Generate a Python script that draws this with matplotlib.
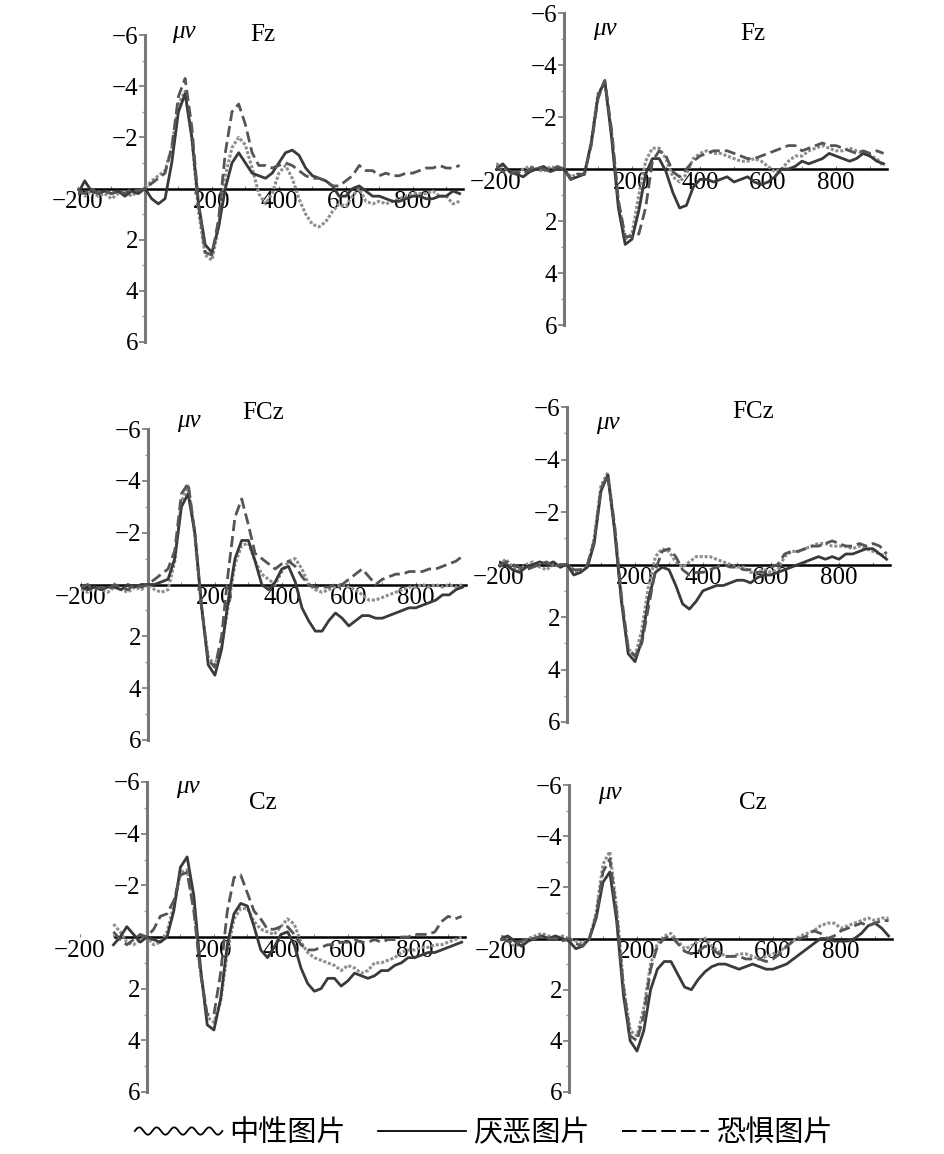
import numpy as np
import matplotlib
matplotlib.use('Agg')
import matplotlib.pyplot as plt
from matplotlib.lines import Line2D
from matplotlib.legend_handler import HandlerBase
from matplotlib.ticker import MultipleLocator

plt.rcParams['font.family'] = ['Liberation Serif', 'DejaVu Serif']

# sample times (ms)
times = np.arange(-200, 941, 20)
nan = np.nan

# ---- Fz, left ----
fz_l_neutral = [0.0, 0.3, 0.1, 0.3, 0.2, 0.4, 0.2, 0.1, 0.3, 0.1,
                0.0, -0.3, -0.5, -0.7, -1.6, -3.3, -3.8, -2.0, 0.9, 2.6,
                2.8, 1.5, -0.5, -1.6, -2.0, -1.7, -0.8, 0.2, 0.6, 0.2,
                -0.6, -0.9, -0.4, 0.4, 1.0, 1.4, 1.5, 1.3, 0.9, 0.6,
                0.7, 0.3, 0.0, 0.5, 0.6, 0.5, 0.6, 0.5, 0.4, 0.3,
                0.2, 0.2, 0.2, 0.1, 0.3, 0.3, 0.6, 0.5]
fz_l_disgust = [0.2, -0.3, 0.1, 0.2, 0.1, 0.2, 0.1, 0.3, 0.1, 0.2,
                0.0, 0.4, 0.6, 0.4, -1.0, -3.0, -3.7, -2.0, 0.6, 2.2,
                2.5, 1.5, 0.0, -1.0, -1.4, -1.0, -0.6, -0.5, -0.4, -0.6,
                -1.0, -1.4, -1.5, -1.3, -0.8, -0.5, -0.4, -0.3, -0.1, 0.3,
                0.3, 0.0, -0.1, 0.1, 0.3, 0.3, 0.4, 0.5, 0.5, 0.4,
                0.3, 0.3, 0.4, 0.4, 0.3, 0.3, 0.1, 0.2]
fz_l_fear = [0.1, 0.2, 0.0, 0.2, 0.1, 0.2, 0.1, 0.2, 0.0, 0.1,
             0.0, -0.2, -0.4, -0.6, -1.6, -3.6, -4.3, -2.4, 0.6, 2.5,
             2.6, 1.2, -1.4, -3.0, -3.3, -2.5, -1.4, -0.9, -0.9, -0.8,
             -0.9, -1.0, -0.9, -0.7, -0.5, -0.4, -0.4, -0.3, -0.1, -0.1,
             -0.3, -0.5, -0.9, -0.7, -0.7, -0.5, -0.6, -0.5, -0.5, -0.6,
             -0.6, -0.7, -0.8, -0.8, -0.9, -0.8, -0.8, -0.9]

# ---- Fz, right ----
fz_r_neutral = [-0.2, -0.1, 0.1, 0.2, 0.0, -0.1, 0.0, 0.1, -0.1, 0.0,
                0.0, 0.3, 0.2, 0.2, -1.0, -2.9, -3.3, -1.4, 1.3, 2.7,
                2.5, 1.0, -0.3, -0.8, -0.8, -0.4, 0.3, 0.5, 0.2, -0.4,
                -0.6, -0.7, -0.6, -0.6, -0.5, -0.4, -0.3, -0.3, -0.4, -0.3,
                -0.1, 0.1, 0.0, -0.3, -0.5, -0.5, -0.7, -0.8, -0.9, -0.8,
                -0.7, -0.7, -0.8, -0.7, -0.6, -0.5, -0.4, -0.1]
fz_r_disgust = [0.0, -0.2, 0.1, 0.2, 0.3, 0.1, 0.0, -0.1, 0.1, 0.0,
                0.0, 0.4, 0.3, 0.2, -1.0, -2.8, -3.4, -1.2, 1.5, 2.9,
                2.7, 1.6, 0.2, -0.4, -0.4, 0.1, 0.9, 1.5, 1.4, 0.7,
                0.4, 0.4, 0.5, 0.4, 0.3, 0.5, 0.4, 0.3, 0.5, 0.6,
                0.5, 0.3, 0.0, 0.0, -0.1, -0.3, -0.2, -0.3, -0.4, -0.6,
                -0.5, -0.4, -0.3, -0.4, -0.6, -0.5, -0.3, -0.2]
fz_r_fear = [-0.1, 0.1, 0.2, 0.1, 0.2, 0.0, -0.1, 0.0, 0.1, -0.1,
             0.0, 0.4, 0.2, 0.2, -0.9, -2.7, -3.4, -1.5, 1.2, 2.6,
             2.6, 2.5, 1.5, -0.3, -0.7, -0.5, 0.1, 0.3, 0.0, -0.3,
             -0.5, -0.6, -0.7, -0.7, -0.7, -0.6, -0.5, -0.4, -0.4, -0.5,
             -0.6, -0.7, -0.8, -0.9, -0.9, -0.7, -0.8, -0.9, -1.0, -0.9,
             -0.9, -0.8, -0.7, -0.6, -0.7, -0.6, -0.7, -0.6]

# ---- FCz, left ----
fcz_l_neutral = [0.2, 0.3, 0.1, 0.2, 0.3, 0.1, 0.2, 0.3, 0.1, 0.2,
                 0.0, 0.2, 0.3, 0.2, -0.9, -3.2, -3.8, -1.9, 0.9, 2.8,
                 3.1, 2.4, 0.8, -0.8, -1.5, -1.6, -0.9, -0.4, -0.2, 0.0,
                 -0.5, -0.9, -1.0, -0.6, 0.0, 0.2, 0.3, 0.2, 0.1, 0.0,
                 0.1, 0.2, 0.4, 0.6, 0.6, 0.5, 0.4, 0.3, 0.2, 0.1,
                 0.1, 0.0, 0.1, 0.0, 0.1, 0.0, 0.1, 0.0]
fcz_l_disgust = [0.1, 0.2, 0.1, 0.2, 0.1, 0.1, 0.2, 0.0, 0.1, 0.0,
                 0.0, 0.0, -0.1, -0.2, -1.0, -3.0, -3.5, -2.0, 0.8, 3.1,
                 3.5, 2.5, 0.6, -1.0, -1.7, -1.7, -0.9, 0.0, 0.2, -0.1,
                 -0.6, -0.7, -0.1, 0.9, 1.4, 1.8, 1.8, 1.4, 1.1, 1.3,
                 1.6, 1.4, 1.2, 1.2, 1.3, 1.3, 1.2, 1.1, 1.0, 0.9,
                 0.9, 0.8, 0.7, 0.6, 0.4, 0.4, 0.2, 0.1]
fcz_l_fear = [0.1, 0.0, 0.2, 0.1, 0.2, 0.0, 0.1, 0.2, 0.0, 0.1,
              0.0, -0.2, -0.4, -0.6, -1.3, -3.5, -3.9, -2.0, 0.9, 2.9,
              3.2, 2.0, -0.5, -2.6, -3.3, -2.3, -1.2, -1.0, -0.8, -0.6,
              -0.8, -0.9, -0.7, -0.3, 0.0, 0.1, 0.1, 0.1, 0.0, 0.0,
              -0.2, -0.4, -0.6, -0.3, 0.0, -0.2, -0.3, -0.4, -0.4, -0.5,
              -0.5, -0.5, -0.6, -0.6, -0.7, -0.8, -0.9, -1.1]

# ---- FCz, right ----
fcz_r_neutral = [0.0, -0.2, 0.1, 0.2, 0.0, -0.1, 0.1, 0.2, 0.0, 0.1,
                 0.0, 0.3, 0.2, 0.1, -1.0, -3.0, -3.5, -1.4, 1.3, 3.2,
                 3.5, 2.5, 0.8, -0.3, -0.6, -0.5, -0.1, 0.1, -0.1, -0.3,
                 -0.3, -0.3, -0.2, -0.1, 0.0, 0.1, 0.1, 0.3, 0.3, 0.2,
                 0.3, 0.2, -0.3, -0.5, -0.5, -0.6, -0.7, -0.8, -0.8, -0.7,
                 -0.7, -0.7, -0.6, -0.7, -0.6, -0.5, -0.4, -0.3]
fcz_r_disgust = [-0.1, 0.0, 0.2, 0.3, 0.1, 0.0, -0.1, 0.0, -0.1, 0.1,
                 0.0, 0.4, 0.3, 0.1, -0.8, -2.8, -3.4, -1.3, 1.4, 3.4,
                 3.7, 2.9, 1.3, 0.3, 0.1, 0.2, 0.8, 1.5, 1.7, 1.4,
                 1.0, 0.9, 0.8, 0.8, 0.7, 0.6, 0.6, 0.7, 0.5, 0.4,
                 0.4, 0.3, 0.2, 0.1, 0.0, -0.1, -0.2, -0.3, -0.2, -0.3,
                 -0.2, -0.4, -0.4, -0.5, -0.6, -0.6, -0.4, -0.2]
fcz_r_fear = [0.1, -0.1, 0.0, 0.1, 0.2, 0.1, 0.0, -0.1, 0.1, 0.0,
              0.0, 0.2, 0.2, 0.0, -0.9, -2.9, -3.4, -1.5, 1.2, 3.2,
              3.5, 3.0, 1.6, 0.2, -0.5, -0.6, -0.3, 0.2, 0.4, 0.3,
              0.3, 0.2, 0.1, 0.0, 0.1, 0.1, 0.2, 0.2, 0.3, 0.3,
              0.1, 0.0, -0.4, -0.5, -0.5, -0.6, -0.7, -0.7, -0.8, -0.9,
              -0.8, -0.7, -0.7, -0.8, -0.7, -0.8, -0.7, -0.4]

# ---- Cz, left (traces start near -100 ms) ----
cz_l_neutral = [nan, nan, nan, nan, nan, -0.5, -0.2, 0.2, 0.3, 0.1,
                0.0, 0.3, 0.2, -0.2, -1.2, -2.5, -2.6, -1.2, 1.3, 3.1,
                3.3, 2.5, 0.6, -0.7, -1.1, -1.1, -0.6, -0.3, -0.2, -0.1,
                -0.4, -0.7, -0.5, 0.2, 0.6, 0.8, 0.9, 1.0, 1.1, 1.3,
                1.1, 1.2, 1.4, 1.3, 1.0, 1.0, 0.9, 0.8, 0.6, 0.5,
                0.5, 0.4, 0.4, 0.3, 0.3, 0.2, 0.1, 0.0]
cz_l_disgust = [nan, nan, nan, nan, nan, 0.3, 0.0, -0.4, -0.1, 0.2,
                0.0, 0.1, 0.2, 0.0, -1.0, -2.7, -3.1, -1.6, 1.2, 3.4,
                3.6, 2.4, 0.3, -0.9, -1.3, -1.2, -0.4, 0.5, 0.8, 0.4,
                -0.1, -0.2, 0.3, 1.2, 1.8, 2.1, 2.0, 1.6, 1.6, 1.9,
                1.7, 1.4, 1.5, 1.6, 1.5, 1.3, 1.3, 1.1, 1.0, 0.8,
                0.8, 0.7, 0.6, 0.6, 0.5, 0.4, 0.3, 0.2]
cz_l_fear = [nan, nan, nan, nan, nan, -0.2, 0.1, 0.3, 0.1, -0.1,
             0.0, -0.3, -0.8, -0.9, -1.4, -2.4, -2.5, -1.0, 1.4, 3.0,
             3.0, 1.4, -1.0, -2.3, -2.4, -1.7, -1.0, -0.7, -0.3, -0.3,
             -0.4, -0.4, -0.1, 0.3, 0.5, 0.5, 0.4, 0.3, 0.3, 0.2,
             0.2, 0.1, 0.2, 0.2, 0.1, 0.2, 0.1, 0.1, 0.0, 0.0,
             -0.1, -0.1, -0.1, -0.2, -0.6, -0.8, -0.7, -0.8]

# ---- Cz, right ----
cz_r_neutral = [-0.1, 0.0, 0.3, 0.2, 0.0, -0.1, -0.2, -0.1, 0.0, -0.1,
                0.0, 0.1, 0.2, 0.0, -1.0, -2.9, -3.4, -1.2, 1.8, 3.6,
                3.8, 2.7, 1.0, 0.2, -0.1, -0.2, 0.1, 0.4, 0.3, 0.1,
                0.0, 0.3, 0.5, 0.7, 0.7, 0.6, 0.6, 0.7, 0.8, 0.7,
                0.6, 0.5, 0.3, 0.1, -0.1, -0.2, -0.3, -0.5, -0.6, -0.6,
                -0.4, -0.5, -0.6, -0.7, -0.8, -0.7, -0.8, -0.8]
cz_r_disgust = [0.0, -0.1, 0.1, 0.3, 0.1, 0.0, -0.1, 0.0, -0.1, 0.0,
                0.1, 0.4, 0.3, 0.0, -0.8, -2.2, -2.6, -0.7, 2.2, 4.0,
                4.4, 3.6, 2.0, 1.2, 0.9, 0.9, 1.4, 1.9, 2.0, 1.6,
                1.3, 1.1, 1.0, 1.0, 1.1, 1.2, 1.1, 1.0, 1.1, 1.2,
                1.2, 1.1, 1.0, 0.8, 0.6, 0.4, 0.2, 0.0, 0.0, 0.1,
                0.1, 0.1, 0.0, -0.2, -0.5, -0.6, -0.4, -0.1]
cz_r_fear = [0.0, 0.1, 0.2, 0.1, 0.0, 0.0, -0.1, 0.0, 0.0, 0.1,
             0.0, 0.2, 0.3, 0.0, -0.9, -2.6, -3.1, -1.0, 1.9, 3.8,
             4.0, 3.0, 1.2, 0.3, 0.0, -0.1, 0.2, 0.5, 0.6, 0.5,
             0.3, 0.4, 0.6, 0.7, 0.7, 0.7, 0.8, 0.8, 0.8, 0.9,
             0.8, 0.6, 0.3, 0.1, 0.0, -0.1, -0.3, -0.2, 0.0, -0.1,
             -0.3, -0.4, -0.5, -0.6, -0.5, -0.6, -0.7, -0.7]

titles = ['Fz', 'Fz', 'FCz', 'FCz', 'Cz', 'Cz']
labels = ['中性图片', '厌恶图片', '恐惧图片']
yticks = [-6, -4, -2, 2, 4, 6]
xticks = [-200, 200, 400, 600, 800]

panels = [
    (fz_l_neutral, fz_l_disgust, fz_l_fear),
    (fz_r_neutral, fz_r_disgust, fz_r_fear),
    (fcz_l_neutral, fcz_l_disgust, fcz_l_fear),
    (fcz_r_neutral, fcz_r_disgust, fcz_r_fear),
    (cz_l_neutral, cz_l_disgust, cz_l_fear),
    (cz_r_neutral, cz_r_disgust, cz_r_fear),
]

# pixel layout: x of -200 ms, x of 950 ms, y of -6, y of 6
W, H = 945, 1154
boxes = [(78, 463, 35, 342), (496, 887, 13, 325),
         (81, 466, 429, 740), (499, 890, 407, 722),
         (80, 465, 782, 1092), (501, 892, 785, 1092)]
title_pos = [(352, -6.0), (556, -5.2), (343, -6.6), (547, -5.8), (346, -5.2), (541, -5.3)]
mu_pos = [(80, -6.1), (85, -5.4), (87, -6.3), (85, -5.4), (87, -5.8), (85, -5.7)]
xstart = [-200, -200, -200, -200, -95, -200]

styles = [dict(color='#8e8e8e', lw=2.2, ls=(0, (1.0, 0.6))),
          dict(color='#3a3a3a', lw=2.0, ls='-'),
          dict(color='#555555', lw=2.0, ls=(0, (4, 1.8)))]

fig = plt.figure(figsize=(W / 100, H / 100), dpi=100)

for i, (series, (x0, x1, y0, y1)) in enumerate(zip(panels, boxes)):
    ax = fig.add_axes([x0 / W, 1 - y1 / H, (x1 - x0) / W, (y1 - y0) / H])
    for s, st in zip(series, styles):
        ax.plot(times, s, zorder=3, solid_joinstyle='round', dash_joinstyle='round', **st)
    ax.set_xlim(-200, 950)
    ax.set_ylim(6, -6)
    ax.spines['top'].set_visible(False)
    ax.spines['right'].set_visible(False)
    ax.spines['left'].set_position(('data', 0))
    ax.spines['bottom'].set_position(('data', 0))
    ax.spines['left'].set_color('#777777')
    ax.spines['left'].set_linewidth(2.2)
    ax.spines['left'].set_bounds(-6, 6)
    ax.spines['bottom'].set_color('black')
    ax.spines['bottom'].set_linewidth(1.8)
    ax.spines['bottom'].set_bounds(xstart[i], 950)
    ax.spines['bottom'].set_zorder(2)
    ax.set_yticks(yticks)
    ax.set_yticklabels([str(v).replace('-', '\u2212') for v in yticks])
    ax.yaxis.set_minor_locator(MultipleLocator(1))
    ax.set_xticks(xticks)
    ax.set_xticklabels([str(v).replace('-', '\u2212') for v in xticks])
    ax.xaxis.set_minor_locator(MultipleLocator(100))
    ax.tick_params(axis='y', which='major', direction='out', length=4, width=1.2,
                   color='#777777', labelsize=18, pad=1)
    ax.tick_params(axis='y', which='minor', direction='out', length=2.5, width=1,
                   color='#999999')
    ax.tick_params(axis='x', which='both', direction='in', length=2, width=0.8,
                   color='#888888', labelsize=18, pad=2)
    ax.patch.set_alpha(0)
    tx, ty = title_pos[i]
    ax.text(tx, ty, titles[i], fontsize=18, ha='center', va='center', clip_on=False)
    mx, my = mu_pos[i]
    ax.text(mx, my, 'μv', fontsize=18, style='italic', ha='left', va='center', clip_on=False)


class WavyHandler(HandlerBase):
    def create_artists(self, legend, orig_handle, xdescent, ydescent, width, height,
                       fontsize, trans):
        xs = np.linspace(0, width, 100)
        ys = height / 2 + height * 0.18 * np.sin(xs / width * 2 * np.pi * 5)
        return [Line2D(xs - xdescent, ys - ydescent, color='black', lw=1.3, transform=trans)]


wavy = Line2D([], [], color='black')
solid = Line2D([], [], color='black', lw=1.3, ls='-')
dashed = Line2D([], [], color='black', lw=1.4, ls=(0, (7.5, 2.6)))
fig.legend([wavy, solid, dashed], labels, handler_map={wavy: WavyHandler()},
           loc='center', bbox_to_anchor=(0.512, 0.018), ncol=3, frameon=False,
           handlelength=3.0, handletextpad=0.25, columnspacing=1.1,
           prop={'family': ['Noto Sans CJK SC'], 'size': 21})

fig.savefig('out.png', dpi=100)
